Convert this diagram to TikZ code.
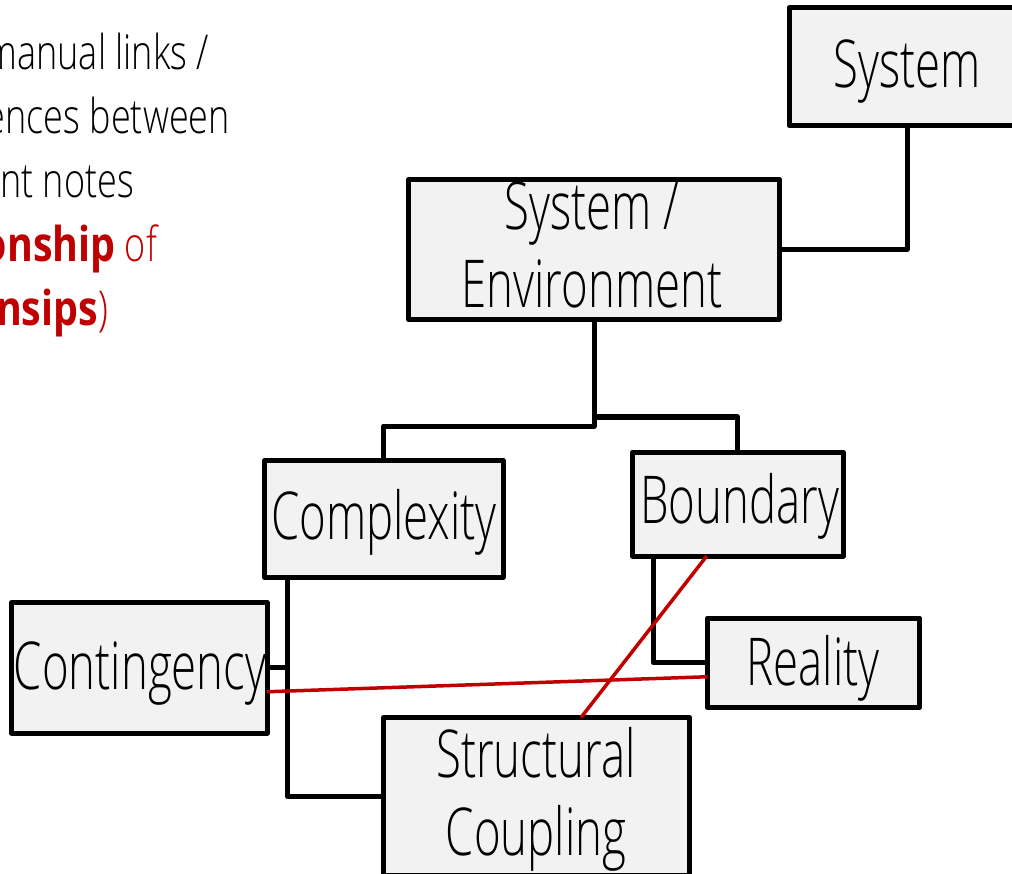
\documentclass[tikz,border=0pt]{standalone}
\usepackage{fontspec}
\IfFontExistsTF{Open Sans Light}{%
  \setmainfont{Open Sans Light}[FakeStretch=0.69, BoldFont={Open Sans Bold}]%
  \newfontfamily\notefont{Open Sans Light}[FakeStretch=0.75, BoldFont={Open Sans Bold}, BoldFeatures={FakeStretch=0.82}]%
}{%
  \setmainfont{Open Sans}[FakeStretch=0.69]%
  \newfontfamily\notefont{Open Sans}[FakeStretch=0.75]%
}
\definecolor{boxgray}{HTML}{F2F2F2}
\definecolor{darkred}{HTML}{C00000}
\begin{document}
\begin{tikzpicture}[x=1pt,y=-1pt,
  box/.style={draw=black, line width=5pt, fill=boxgray, inner sep=0pt, outer sep=0pt, line join=round},
  lbl/.style={anchor=base, inner sep=0pt, font=\fontsize{66}{78}\selectfont},
  note/.style={anchor=base east, inner sep=0pt, font=\notefont\fontsize{48}{64}\selectfont},
  conn/.style={draw=black, line width=5pt, line join=round},
  rel/.style={draw=darkred, line width=3.5pt}]
\useasboundingbox (0,0) rectangle (1012,874);
% note text (cut off on the left)
\node[note] (n1) at (209,70) {Create manual links /};
\node[note] (n2) at (230,134) {references between};
\node[note] (n3) at (134,198) {different notes};
\node[note, text=darkred] (n4) at (157,262) {(\textbf{relationship} of};
\node[note, text=darkred] (n5) at (108,326) {\textbf{relationsips})};
% boxes
\node[box, minimum width=236pt, minimum height=117.5pt] (system) at (907,66.75) {};
\node[box, minimum width=371pt, minimum height=140pt] (sysenv) at (594,249.5) {};
\node[box, minimum width=238.5pt, minimum height=117pt] (complexity) at (383.75,519) {};
\node[box, minimum width=210.5pt, minimum height=104pt] (boundary) at (737.75,504) {};
\node[box, minimum width=255.5pt, minimum height=130.5pt] (contingency) at (139.25,667.75) {};
\node[box, minimum width=212pt, minimum height=89.5pt] (reality) at (813.5,662.75) {};
\node[box, minimum width=306pt, minimum height=157.5pt] (structural) at (536.5,796.25) {};
% labels
\node[lbl] (systemlbl) at (907,88) {System};
\node[lbl] (sysenvlbl1) at (592,230) {System /};
\node[lbl] (sysenvlbl2) at (592,308) {Environment};
\node[lbl] (complexitylbl) at (384,539) {Complexity};
\node[lbl] (boundarylbl) at (739.5,523) {Boundary};
\node[lbl] (contingencylbl) at (140,689) {Contingency};
\node[lbl] (realitylbl) at (813,685) {Reality};
\node[lbl] (structurallbl1) at (536,777) {Structural};
\node[lbl] (structurallbl2) at (536,855) {Coupling};
% connectors
\draw[conn] (system.south) |- (sysenv.east);
\draw[conn] (sysenv.south) -- ++(0,106.5) -| (complexity.north);
\draw[conn] (sysenv.south) -- ++(0,97.5) -| (boundary.north);
\draw[conn] (complexity.south -| 287.5,0) |- (structural.west);
\draw[conn] (contingency.east) -- ++(20.5,0);
\draw[conn] (boundary.south -| 653.5,0) |- (reality.west);
% relationship lines
\draw[rel] ([yshift=-24pt]contingency.east) -- ([yshift=-14pt]reality.west);
\draw[rel] ([xshift=-31pt]boundary.south) -- ([xshift=44.5pt]structural.north);
\end{tikzpicture}
\end{document}
